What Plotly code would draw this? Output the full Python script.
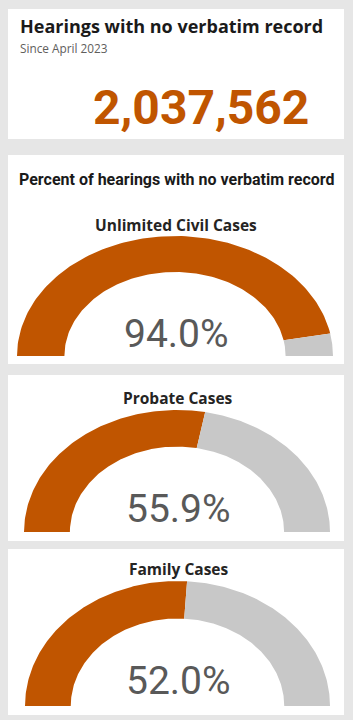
import numpy as np
import plotly.graph_objects as go

W, H = 353, 720

# ---- data ----
headline_title = "Hearings with no verbatim record"
headline_sub = "Since April 2023"
headline_total = 2037562
section_title = "Percent of hearings with no verbatim record"
case_types = ["Unlimited Civil Cases", "Probate Cases", "Family Cases"]
pct_no_record = [94.0, 55.9, 52.0]

ORANGE = "#C05500"
GREY = "#C8C8C8"
BG = "#E6E6E6"

def px(x):
    return x / W

def py(y):
    return 1 - y / H

fig = go.Figure()

# panels (pixel boxes)
panels = [(8, 9, 344, 139), (8, 155, 344, 364), (8, 375, 344, 541), (8, 549, 344, 715)]
shapes = []
for x0, y0, x1, y1 in panels:
    shapes.append(dict(type="rect", xref="paper", yref="paper",
                       x0=px(x0), x1=px(x1), y0=py(y1), y1=py(y0),
                       fillcolor="white", line=dict(width=0), layer="below"))

# gauge boxes in pixels: (left, top, right, bottom)
gauge_boxes = [(17, 236, 333, 356), (24, 410, 330, 532), (25, 581, 330, 706)]
title_y = [225, 398, 569]
value_y = [334, 509, 681]
inner = 0.70

def ring(t0, t1, n=120):
    t = np.linspace(t0, t1, n)
    xo, yo = np.cos(t), np.sin(t)
    xi, yi = inner * np.cos(t[::-1]), inner * np.sin(t[::-1])
    return np.concatenate([xo, xi, xo[:1]]), np.concatenate([yo, yi, yo[:1]])

annotations = []
for i, (name, v) in enumerate(zip(case_types, pct_no_record)):
    ax = "" if i == 0 else str(i + 1)
    l, t, r, b = gauge_boxes[i]
    split = np.pi - v / 100 * np.pi
    for (a0, a1, col) in [(np.pi, split, ORANGE), (split, 0, GREY)]:
        xs, ys = ring(a0, a1)
        fig.add_trace(go.Scatter(x=xs, y=ys, fill="toself", fillcolor=col,
                                 line=dict(width=0, color=col), mode="lines",
                                 hoverinfo="skip", showlegend=False,
                                 xaxis="x" + ax, yaxis="y" + ax))
    fig.update_layout({
        "xaxis" + ax: dict(domain=[px(l), px(r)], range=[-1, 1], visible=False, fixedrange=True),
        "yaxis" + ax: dict(domain=[py(b), py(t)], range=[0, 1], visible=False, fixedrange=True),
    })
    cx = (l + r) / 2
    annotations.append(dict(text=name, x=px(cx + 1), y=py(title_y[i]), xref="paper", yref="paper",
                            showarrow=False, xanchor="center", yanchor="middle",
                            font=dict(family="Open Sans", size=15.5, color="#252423", weight="bold")))
    annotations.append(dict(text=f"{v:.1f}%", x=px(cx + 1), y=py(value_y[i]), xref="paper", yref="paper",
                            showarrow=False, xanchor="center", yanchor="middle",
                            font=dict(family="Roboto", size=39, color="#595959")))

annotations += [
    dict(text=headline_title, x=px(18), y=py(26), xref="paper", yref="paper", showarrow=False,
         xanchor="left", yanchor="middle",
         font=dict(family="Open Sans", size=18, color="#1a1a1a", weight="bold")),
    dict(text=headline_sub, x=px(18), y=py(48), xref="paper", yref="paper", showarrow=False,
         xanchor="left", yanchor="middle",
         font=dict(family="Open Sans", size=11.8, color="#605E5C")),
    dict(text=f"{headline_total:,}", x=px(201), y=py(107), xref="paper", yref="paper", showarrow=False,
         xanchor="center", yanchor="middle",
         font=dict(family="Roboto", size=48, color=ORANGE, weight="bold")),
    dict(text=section_title, x=px(177), y=py(179), xref="paper", yref="paper", showarrow=False,
         xanchor="center", yanchor="middle",
         font=dict(family="Roboto", size=16, color="#1a1a1a", weight="bold")),
]

fig.update_layout(width=W, height=H, margin=dict(l=0, r=0, t=0, b=0),
                  paper_bgcolor=BG, plot_bgcolor="rgba(0,0,0,0)",
                  shapes=shapes, annotations=annotations)

fig.write_html("out.html", config={"displayModeBar": False})
